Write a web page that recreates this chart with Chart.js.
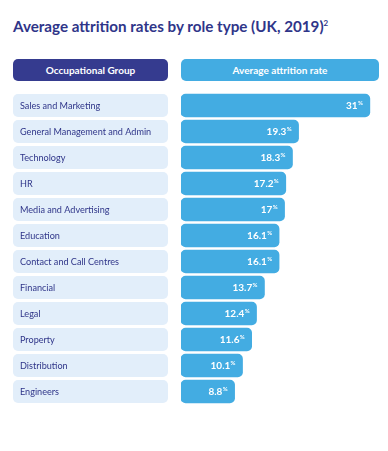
<!DOCTYPE html>
<html>
<head>
    <title>Average attrition rates by role type</title>
    <script src="https://cdn.jsdelivr.net/npm/chart.js"></script>
    <style>
        body { margin: 0; background: #fff; font-family: Lato, "Open Sans", sans-serif; }
        #wrap { position: relative; width: 388px; height: 451px; overflow: hidden; }
        h1 { position: absolute; left: 13px; top: 17px; margin: 0; font-size: 15.2px; font-weight: 700; color: #2f3589; white-space: nowrap; }
        h1 sup { font-size: 8px; }
        .head { position: absolute; top: 59px; height: 22px; line-height: 22px; border-radius: 5px; color: #fff; font-size: 10px; font-weight: 700; text-align: center; }
        #h1 { left: 13px; width: 155px; background: #353b8f; }
        #h2 { left: 181px; width: 198px; background: #43ace2; }
        canvas { position: absolute; left: 0; top: 0; }
    </style>
</head>
<body>
<div id="wrap">
    <h1>Average attrition rates by role type (UK, 2019)<sup>2</sup></h1>
    <div class="head" id="h1">Occupational Group</div>
    <div class="head" id="h2">Average attrition rate</div>
    <canvas id="attritionChart" width="388" height="451"></canvas>
</div>
<script>
    var groups = ['Sales and Marketing', 'General Management and Admin', 'Technology', 'HR', 'Media and Advertising', 'Education', 'Contact and Call Centres', 'Financial', 'Legal', 'Property', 'Distribution', 'Engineers'];
    var rates = [31, 19.3, 18.3, 17.2, 17, 16.1, 16.1, 13.7, 12.4, 11.6, 10.1, 8.8];

    var rowBoxes = {
        id: 'rowBoxes',
        beforeDatasetsDraw: function (chart) {
            var c = chart.ctx;
            var y = chart.scales.y;
            c.save();
            groups.forEach(function (g, i) {
                var py = y.getPixelForTick(i);
                c.fillStyle = '#e2eefa';
                c.beginPath();
                c.roundRect(13, py - 11.5, 155, 23, 5);
                c.fill();
                c.fillStyle = '#2f3589';
                c.font = '9.1px Lato, sans-serif';
                c.textBaseline = 'middle';
                c.fillText(g, 20, py + 0.5);
            });
            c.restore();
        }
    };

    var valueLabels = {
        id: 'valueLabels',
        afterDatasetsDraw: function (chart) {
            var c = chart.ctx;
            c.save();
            c.fillStyle = '#fff';
            c.textBaseline = 'middle';
            chart.getDatasetMeta(0).data.forEach(function (bar, i) {
                c.font = 'bold 6px Lato, sans-serif';
                var pw = c.measureText('%').width;
                var xEnd = bar.x - 7;
                c.textAlign = 'right';
                c.fillText('%', xEnd, bar.y - 2.5);
                c.font = 'bold 10px Lato, sans-serif';
                c.fillText(String(rates[i]), xEnd - pw - 0.3, bar.y + 0.5);
            });
            c.restore();
        }
    };

    var attritionChart = new Chart(document.getElementById('attritionChart').getContext('2d'), {
        type: 'bar',
        data: {
            labels: groups,
            datasets: [{
                data: rates,
                backgroundColor: '#43ace2',
                borderRadius: 5,
                borderSkipped: false,
                barThickness: 23
            }]
        },
        options: {
            indexAxis: 'y',
            responsive: false,
            animation: false,
            layout: { padding: { left: 181, right: 9, top: 92.5, bottom: 46.5 } },
            scales: {
                x: { display: false, min: 0, max: 32.5 },
                y: { display: false }
            },
            plugins: {
                legend: { display: false },
                tooltip: { enabled: false }
            }
        },
        plugins: [rowBoxes, valueLabels]
    });
</script>
</body>
</html>
